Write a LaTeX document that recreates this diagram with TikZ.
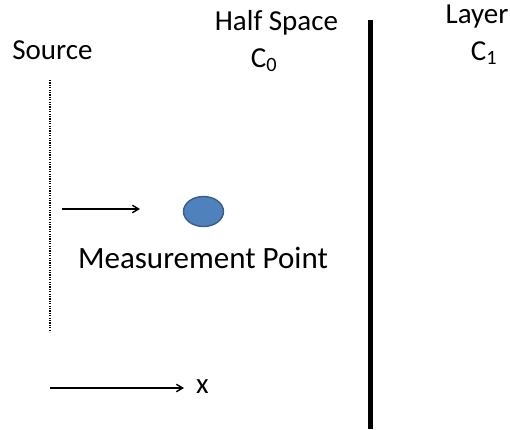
\documentclass[tikz,border=0pt]{standalone}
\usepackage{fontspec}
\setmainfont{Carlito}
\usetikzlibrary{arrows.meta,positioning,shapes.geometric}
\definecolor{pt}{HTML}{4F81BD}
\definecolor{ptedge}{HTML}{385D8A}
\tikzset{
  lbl/.style={font=\fontsize{29}{33}\selectfont, inner sep=0pt, anchor=base},
  flow/.style={-{Straight Barb[length=2.2mm, width=2.6mm]}, line width=1.4pt},
  wall/.style={line width=5pt},
  src/.style={dash pattern=on 1.2pt off 1.2pt, line width=1.8pt},
}
\begin{document}
\begin{tikzpicture}[x=1pt, y=-1pt]
\useasboundingbox (0,0) rectangle (510,429);

% Labels across the top
\node[lbl] (source) at (52.5, 59) {Source};
\node[lbl] (half) at (276.5, 30) {Half Space};
\node[lbl] (czero) at (264, 67) {C\textsubscript{0}};
\node[lbl] (layer) at (477, 23) {Layer};
\node[lbl] (cone) at (484, 60) {C\textsubscript{1}};

% Source line and the interface
\coordinate (srctop) at (50, 80);
\coordinate (srcbot) at (50, 332);
\draw[src] (srctop) -- (srcbot);
\coordinate (walltop) at (370, 20);
\coordinate (wallbot) at (370, 429);
\draw[wall] (walltop) -- (wallbot);

% Measurement point
\node[ellipse, draw=ptedge, fill=pt, line width=1.4pt, minimum width=40pt, minimum height=30pt, inner sep=0pt] (mp) at (203.5, 211.5) {};
\node[lbl, font=\fontsize{31}{35}\selectfont] (mplbl) at (203, 268) {Measurement Point};
\coordinate (dirstart) at (62, 209);
\coordinate (dirend) at (140, 209);
\draw[flow] (dirstart) -- (dirend);

% x axis
\coordinate (xstart) at (50, 388);
\node[lbl] (xlbl) at (202.5, 393) {x};
\draw[flow] (xstart) -- (184, 388);

\end{tikzpicture}
\end{document}
